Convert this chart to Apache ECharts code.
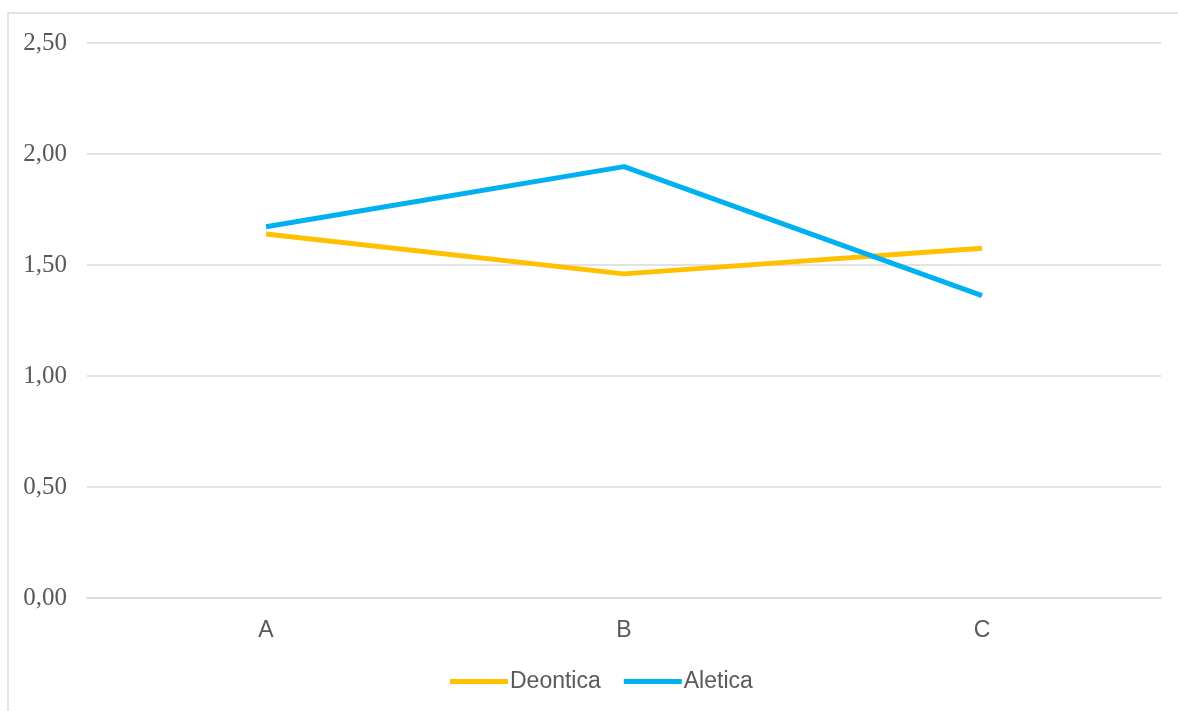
<!DOCTYPE html>
<html>
<head>
<meta charset="utf-8">
<script src="https://cdn.jsdelivr.net/npm/echarts@6/dist/echarts.min.js"></script>
<style>html,body{margin:0;padding:0;background:#fff;}#c{width:1178px;height:711px;}</style>
</head>
<body>
<div id="c"></div>
<script>
var categories = ['A', 'B', 'C'];
var deontica = [1.64, 1.46, 1.575];
var aletica = [1.672, 1.943, 1.362];
var yTicks = [0, 0.5, 1, 1.5, 2, 2.5];

var chart = echarts.init(document.getElementById('c'), null, {renderer: 'canvas'});
chart.setOption({
  backgroundColor: '#ffffff',
  animation: false,
  graphic: [{
    type: 'rect', silent: true,
    shape: {x: 8, y: 13, width: 1200, height: 720},
    style: {fill: 'none', stroke: '#d9d9d9', lineWidth: 1.5}
  }],
  grid: {left: 87, right: 17, top: 43, bottom: 113, containLabel: false},
  legend: {
    bottom: 13, left: 445, itemWidth: 58, itemHeight: 5, itemGap: 23,
    icon: 'rect',
    textStyle: {fontFamily: 'Liberation Sans', fontSize: 23, color: '#595959', padding: [0, 0, 0, -3]},
    data: ['Deontica', 'Aletica']
  },
  xAxis: {
    type: 'category', data: categories,
    axisLine: {show: true, lineStyle: {color: '#d9d9d9', width: 1.5}},
    axisTick: {show: false},
    axisLabel: {fontFamily: 'Liberation Sans', fontSize: 23, color: '#595959', margin: 21}
  },
  yAxis: {
    type: 'value', min: yTicks[0], max: yTicks[yTicks.length - 1], interval: 0.5,
    axisLine: {show: false}, axisTick: {show: false},
    splitLine: {lineStyle: {color: '#d9d9d9', width: 1.5}},
    axisLabel: {
      fontFamily: 'Liberation Serif', fontSize: 25, color: '#595959', margin: 20,
      formatter: function (v) { return v.toFixed(2).replace('.', ','); }
    }
  },
  series: [
    {name: 'Deontica', type: 'line', data: deontica, symbol: 'none',
     lineStyle: {color: '#FFC000', width: 5, cap: 'butt'}, itemStyle: {color: '#FFC000'}},
    {name: 'Aletica', type: 'line', data: aletica, symbol: 'none',
     lineStyle: {color: '#00B0F0', width: 5, cap: 'butt'}, itemStyle: {color: '#00B0F0'}}
  ]
});
</script>
</body>
</html>
